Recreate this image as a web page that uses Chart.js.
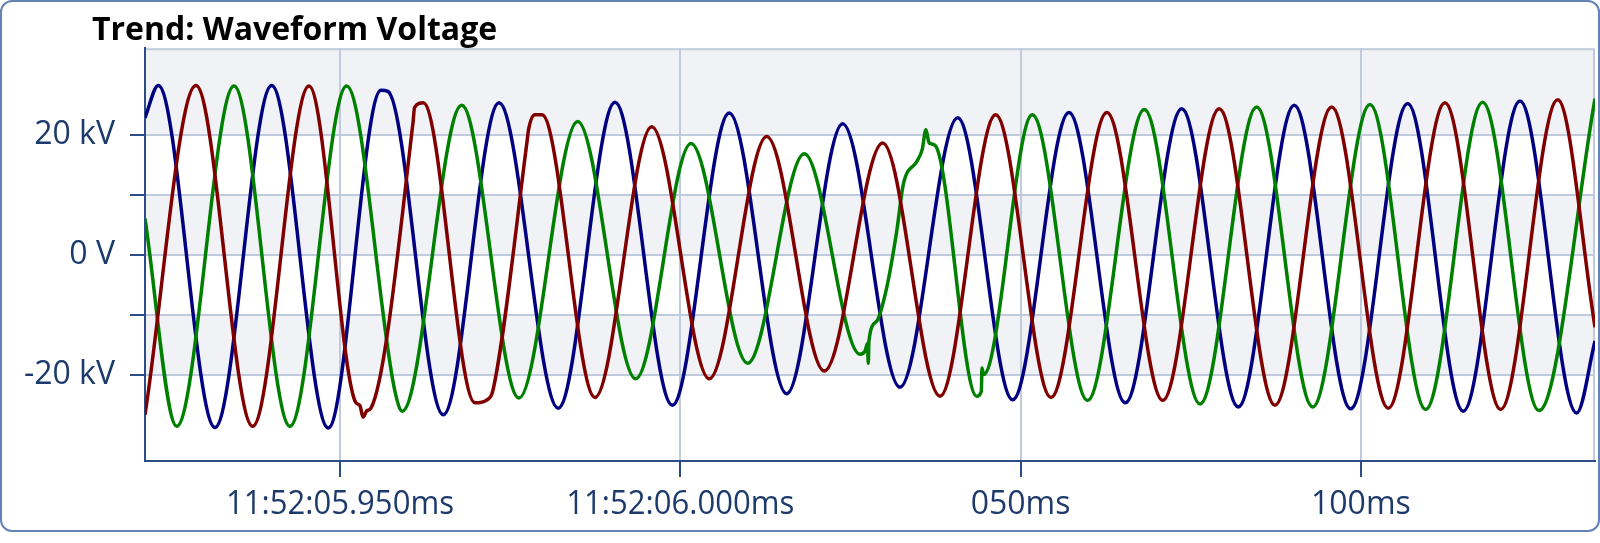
<!DOCTYPE html>
<html>
<head>
<meta charset="utf-8">
<title>Trend: Waveform Voltage</title>
<script src="https://cdn.jsdelivr.net/npm/chart.js@4.4.1/dist/chart.umd.min.js"></script>
<style>
    html, body { margin: 0; padding: 0; background: #fff; }
    #wrap { position: relative; width: 1600px; height: 543px; }
    #chartWave { position: absolute; left: 0; top: 0; }
    #frame {
        position: absolute; left: 0; top: 0;
        width: 1600px; height: 532px; box-sizing: border-box;
        border: 2px solid #6383b7; border-radius: 12px;
        pointer-events: none;
    }
</style>
</head>
<body>
<div id="wrap">
    <canvas id="chartWave" width="1600" height="543"></canvas>
    <div id="frame"></div>
</div>
<script>
// x: ms after 11:52:05.900, y: kV
const xTickValues = [50, 100, 150, 200];
const xTickLabels = ["11:52:05.950ms", "11:52:06.000ms", "050ms", "100ms"];
const yTickValues = [-20, -10, 0, 10, 20];
const yTickLabels = ["-20 kV", "", "0 V", "", "20 kV"];

// peaks, troughs and visible kinks
const redWave = [
    [21.35, -26.7], [28.84, 28.2], [37.17, -28.6], [45.45, 28.1],
    [52.20, -24.4], [52.94, -25.2], [53.38, -27.1], [53.97, -26.0], [54.55, -25.6],
    [60.73, 22.0], [60.95, 24.5], [62.24, 25.3],
    [69.84, -24.7], [71.60, -24.2], [72.48, -22.6],
    [77.48, 18.8], [77.70, 20.8], [78.65, 23.3], [79.68, 23.3],
    [87.47, -23.8], [95.80, 21.3], [104.26, -20.7], [112.70, 19.7],
    [121.16, -19.4], [129.74, 18.6], [138.16, -23.6], [146.34, 23.3],
    [154.47, -23.8], [162.68, 23.7], [170.89, -24.3], [179.19, 24.3],
    [187.38, -25.1], [195.71, 24.6], [204.03, -25.6], [212.35, 25.3],
    [220.54, -25.8], [228.92, 25.8], [234.40, -12.1]
];

const greenWave = [
    [21.35, 6.0], [26.01, -28.6], [34.43, 28.1], [42.65, -28.6], [50.98, 28.1],
    [58.08, -22.8], [59.15, -26.1], [67.88, 24.9], [76.30, -23.9],
    [84.92, 22.2], [93.45, -20.7], [101.57, 18.5], [109.90, -18.1],
    [118.22, 16.8], [126.40, -16.6], [127.14, -16.1], [127.51, -14.8],
    [127.62, -18.1], [127.72, -14.3],
    [128.86, -11.1], [130.33, -5.5], [131.80, 3.9], [132.77, 11.7],
    [134.80, 15.6], [135.54, 17.5], [136.09, 20.8], [136.57, 18.6], [137.46, 18.2],
    [143.55, -23.6], [144.23, -22.8], [144.33, -18.9], [144.55, -20.0],
    [151.72, 23.3], [159.83, -24.3], [168.18, 24.2], [176.37, -24.9],
    [184.69, 24.6], [192.92, -25.4], [201.34, 25.0], [209.52, -25.8],
    [217.89, 25.4], [226.17, -26.0], [234.40, 26.0]
];

const blueWave = [
    [21.35, 22.8], [23.30, 28.2], [31.63, -28.8], [39.96, 28.2], [48.28, -28.9],
    [56.02, 27.4], [57.05, 27.2], [65.18, -26.7], [73.36, 25.3], [82.07, -25.6],
    [90.41, 25.4], [98.83, -25.1], [107.20, 23.6], [115.63, -23.2],
    [123.86, 21.8], [132.28, -22.1], [140.76, 22.8], [148.84, -24.2],
    [157.11, 23.7], [165.39, -24.7], [173.68, 24.3], [181.99, -25.4],
    [190.21, 24.9], [198.50, -25.7], [206.87, 25.2], [215.04, -26.1],
    [223.38, 25.6], [231.71, -26.4], [234.40, -14.4]
];

const axisColor = "#2b4c86";
const gridColor = "#bfcadc";
const labelColor = "#1c3a6b";

Chart.defaults.font.family = "'Open Sans', sans-serif";

function toPoints(wave) {
    return wave.map(p => ({x: p[0], y: p[1]}));
}

// alternating grey / white bands between the y grid lines
const bandPlugin = {
    id: "bands",
    afterLayout(chart) {
        // title starts left of the plot, not at the canvas edge
        chart.titleBlock.left = 92;
    },
    beforeDraw(chart) {
        const {ctx, chartArea, scales} = chart;
        const y = scales.y;
        let edges = [y.max, ...yTickValues.slice().reverse(), y.min];
        ctx.save();
        for (let i = 0; i < edges.length - 1; i++) {
            let top = y.getPixelForValue(edges[i]);
            let bottom = y.getPixelForValue(edges[i + 1]);
            ctx.fillStyle = i % 2 === 0 ? "#f0f2f6" : "#ffffff";
            ctx.fillRect(chartArea.left, top, chartArea.width, bottom - top);
        }
        ctx.strokeStyle = gridColor;
        ctx.lineWidth = 2;
        ctx.beginPath();
        ctx.moveTo(chartArea.left, chartArea.top + 1);
        ctx.lineTo(chartArea.right - 1, chartArea.top + 1);
        ctx.lineTo(chartArea.right - 1, chartArea.bottom);
        ctx.stroke();
        ctx.restore();

        // long time labels are squeezed into the same box as the short ones
        for (let item of scales.x.getLabelItems(chartArea)) {
            if (item.label.length > 6) {
                item.options.maxWidth = 228;
            }
        }
    }
};

new Chart("chartWave", {
    type: "line",
    data: {
        datasets: [
            {label: "red", data: toPoints(redWave), borderColor: "#800000"},
            {label: "green", data: toPoints(greenWave), borderColor: "#008000"},
            {label: "blue", data: toPoints(blueWave), borderColor: "#000080"}
        ]
    },
    options: {
        responsive: false,
        devicePixelRatio: 1,
        animation: false,
        layout: {padding: {left: 0, right: 5, top: 0, bottom: 0}},
        elements: {
            line: {borderWidth: 3.5, cubicInterpolationMode: "monotone", fill: false},
            point: {radius: 0}
        },
        plugins: {
            legend: {display: false},
            tooltip: {enabled: false},
            title: {
                display: true,
                text: "Trend: Waveform Voltage",
                align: "start",
                color: "#000000",
                font: {size: 32, weight: "bold", lineHeight: 1.1},
                padding: {top: 13, bottom: 0}
            }
        },
        scales: {
            x: {
                type: "linear",
                min: 21.35,
                max: 234.4,
                afterBuildTicks: axis => { axis.ticks = xTickValues.map(v => ({value: v})); },
                afterFit: axis => { axis.height = 82; },
                grid: {color: gridColor, lineWidth: 2, tickLength: 16, tickColor: axisColor, tickWidth: 2},
                border: {color: axisColor, width: 2},
                ticks: {
                    color: labelColor,
                    padding: 9,
                    maxRotation: 0,
                    autoSkip: false,
                    font: {size: 32, lineHeight: "38px"},
                    callback: value => xTickLabels[xTickValues.indexOf(value)]
                }
            },
            y: {
                min: -34.4,
                max: 34.4,
                afterBuildTicks: axis => { axis.ticks = yTickValues.map(v => ({value: v})); },
                afterFit: axis => { axis.width = 145; },
                grid: {color: gridColor, lineWidth: 2, tickLength: 15, tickColor: axisColor, tickWidth: 2},
                border: {color: axisColor, width: 2},
                ticks: {
                    color: labelColor,
                    padding: 15,
                    font: {size: 32},
                    callback: value => yTickLabels[yTickValues.indexOf(value)]
                }
            }
        }
    },
    plugins: [bandPlugin]
});
</script>
</body>
</html>
